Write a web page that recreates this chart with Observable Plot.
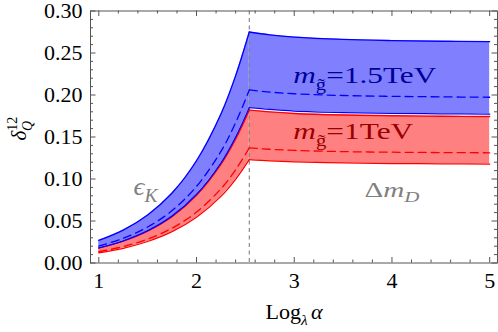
<!DOCTYPE html>
<html>
<head>
<meta charset="utf-8">
<script src="https://cdn.jsdelivr.net/npm/d3@7"></script>
<script src="https://cdn.jsdelivr.net/npm/@observablehq/plot@0.6"></script>
<style>
  html, body { margin: 0; padding: 0; background: #fff; }
</style>
</head>
<body>
<div id="chart"></div>
<script>
// ---- data ----
const xVals   = [1, 1.25, 1.5, 1.75, 2, 2.25, 2.4, 2.54, 2.54, 2.75, 3, 3.5, 4, 4.5, 5];
const segment = ["L","L","L","L","L","L","L","L","R","R","R","R","R","R","R"];
const blueUpper  = [0.0269, 0.0392, 0.0572, 0.0833, 0.1217, 0.1774, 0.2228, 0.2750, 0.2750, 0.2717, 0.2690, 0.2662, 0.2648, 0.2640, 0.2635];
const blueDashed = [0.0201, 0.0294, 0.0428, 0.0624, 0.0912, 0.1329, 0.1669, 0.2060, 0.2060, 0.2035, 0.2015, 0.1994, 0.1984, 0.1978, 0.1973];
const blueLower  = [0.0181, 0.0264, 0.0385, 0.0561, 0.0819, 0.1193, 0.1499, 0.1850, 0.1850, 0.1828, 0.1809, 0.1791, 0.1782, 0.1776, 0.1772];
const redUpper   = [0.0178, 0.0260, 0.0379, 0.0551, 0.0805, 0.1174, 0.1474, 0.1820, 0.1820, 0.1798, 0.1780, 0.1762, 0.1753, 0.1747, 0.1744];
const redDashed  = [0.0134, 0.0195, 0.0285, 0.0415, 0.0606, 0.0884, 0.1110, 0.1370, 0.1370, 0.1354, 0.1340, 0.1326, 0.1319, 0.1315, 0.1312];
const redLower   = [0.0120, 0.0175, 0.0256, 0.0373, 0.0544, 0.0793, 0.0996, 0.1230, 0.1230, 0.1215, 0.1203, 0.1191, 0.1184, 0.1181, 0.1178];
const boundaryX = [2.54];

const xMajor = [1, 2, 3, 4, 5];
const xMinor = [1.2, 1.4, 1.6, 1.8, 2.2, 2.4, 2.6, 2.8, 3.2, 3.4, 3.6, 3.8, 4.2, 4.4, 4.6, 4.8];
const yMajor = [0, 0.05, 0.10, 0.15, 0.20, 0.25, 0.30];
const yMinor = [0.01, 0.02, 0.03, 0.04, 0.06, 0.07, 0.08, 0.09, 0.11, 0.12, 0.13, 0.14,
                0.16, 0.17, 0.18, 0.19, 0.21, 0.22, 0.23, 0.24, 0.26, 0.27, 0.28, 0.29];

const labelHeavy = "m_g~=1.5TeV";
const labelLight = "m_g~=1TeV";
const labelEps = "eps_K";
const labelDm = "Dm_D";
const xTitle = "Log_lambda alpha";
const yTitle = "delta_Q^12";

// ---- layout ----
const W = 498, H = 332;
const mL = 90, mR = 1, mT = 10.5, mB = 69.5;
const innerW = W - mL - mR, innerH = H - mT - mB;
const majorLen = 5.5, minorLen = 3;
const tickColor = "#555";
const FONT = "'Liberation Serif', 'Times New Roman', serif";

const rows = xVals.map((x, i) => ({
  x, seg: segment[i],
  bu: blueUpper[i], bd: blueDashed[i], bl: blueLower[i],
  ru: redUpper[i], rd: redDashed[i], rl: redLower[i]
}));

const curve = "catmull-rom";
const lineW = 1.3;

const plot = Plot.plot({
  width: W, height: H,
  marginLeft: mL, marginRight: mR, marginTop: mT, marginBottom: mB,
  style: {fontFamily: FONT, fontSize: "22px", color: "#000", background: "#fff"},
  x: {domain: [0.915, 5.08]},
  y: {domain: [0, 0.30]},
  marks: [
    // bands
    Plot.areaY(rows, {x: "x", y1: "rl", y2: "ru", z: "seg", fill: "#ff8080", curve}),
    Plot.areaY(rows, {x: "x", y1: "bl", y2: "bu", z: "seg", fill: "#8080ff", curve}),
    // boundary
    Plot.ruleX(boundaryX, {stroke: "#808080", strokeWidth: 1.1, strokeDasharray: "4,3.5"}),
    // edges
    Plot.line(rows, {x: "x", y: "rl", z: "seg", stroke: "#ff0000", strokeWidth: lineW, curve}),
    Plot.line(rows, {x: "x", y: "ru", z: "seg", stroke: "#ff0000", strokeWidth: lineW, curve}),
    Plot.line(rows, {x: "x", y: "rd", z: "seg", stroke: "#ff0000", strokeWidth: lineW, strokeDasharray: "8,5", curve}),
    Plot.line(rows, {x: "x", y: "bl", z: "seg", stroke: "#0000ff", strokeWidth: lineW, curve}),
    Plot.line(rows, {x: "x", y: "bu", z: "seg", stroke: "#0000ff", strokeWidth: lineW, curve}),
    Plot.line(rows, {x: "x", y: "bd", z: "seg", stroke: "#0000ff", strokeWidth: lineW, strokeDasharray: "8,5", curve}),
    // frame ticks (inward, all four sides)
    Plot.ruleX(xMajor, {stroke: tickColor, insetTop: innerH - majorLen}),
    Plot.ruleX(xMinor, {stroke: tickColor, insetTop: innerH - minorLen}),
    Plot.ruleX(xMajor, {stroke: tickColor, insetBottom: innerH - majorLen}),
    Plot.ruleX(xMinor, {stroke: tickColor, insetBottom: innerH - minorLen}),
    Plot.ruleY(yMajor, {stroke: tickColor, insetRight: innerW - majorLen}),
    Plot.ruleY(yMinor, {stroke: tickColor, insetRight: innerW - minorLen}),
    Plot.ruleY(yMajor, {stroke: tickColor, insetLeft: innerW - majorLen}),
    Plot.ruleY(yMinor, {stroke: tickColor, insetLeft: innerW - minorLen}),
    Plot.frame({stroke: tickColor, strokeWidth: 1}),
    // tick labels
    Plot.axisX({ticks: xMajor, tickFormat: d => String(d), tickSize: 0, tickPadding: 9, label: null, fontSize: 22, fill: "#000"}),
    Plot.axisY({ticks: yMajor, tickFormat: d3.format(".2f"), tickSize: 0, tickPadding: 8, label: null, fontSize: 22, fill: "#000"}),
    // annotations
    Plot.text([labelHeavy], {x: () => 2.99, y: () => 0.2145, text: d => d, textAnchor: "start", lineAnchor: "bottom", fill: "#00009a"}),
    Plot.text([labelLight], {x: () => 2.99, y: () => 0.1479, text: d => d, textAnchor: "start", lineAnchor: "bottom", fill: "#9a0000"}),
    Plot.text([labelEps], {x: () => 1.355, y: () => 0.0804, text: d => d, textAnchor: "start", lineAnchor: "bottom", fill: "#808080"}),
    Plot.text([labelDm], {x: () => 3.718, y: () => 0.0783, text: d => d, textAnchor: "start", lineAnchor: "bottom", fill: "#808080"}),
    // axis titles
    Plot.text([xTitle], {frameAnchor: "bottom", text: d => d, dy: 55.5, lineAnchor: "bottom", fill: "#000"}),
    Plot.text([yTitle], {frameAnchor: "left", y: () => 0.1458, text: d => d, dx: -65, rotate: -90, textAnchor: "start", lineAnchor: "bottom", fill: "#000"})
  ]
});

document.getElementById("chart").appendChild(plot);

// force the serif face on every text of the figure
d3.select(plot).style("font-family", FONT);
d3.select(plot).selectAll("g").style("font-family", FONT);
d3.select(plot).selectAll("text").style("font-family", FONT);

// ---- rich text (sub/superscripts); fs = base font size, len = target width ----
const rich = {
  [labelHeavy]: {fs: 24, len: 143, parts: [{t: "m", it: true}, {t: "g\u0303", s: 0.66, sh: 0.3}, {t: "=1.5TeV"}]},
  [labelLight]: {fs: 24, len: 120, parts: [{t: "m", it: true}, {t: "g\u0303", s: 0.66, sh: 0.3}, {t: "=1TeV"}]},
  [labelEps]:   {fs: 25, len: 24,  parts: [{t: "\u03F5", it: true}, {t: "K", it: true, s: 0.72, sh: 0.28}]},
  [labelDm]:    {fs: 20, len: 55,  parts: [{t: "\u0394"}, {t: "m", it: true}, {t: "D", it: true, s: 0.72, sh: 0.22}]},
  [xTitle]:     {fs: 21, len: 57,  parts: [{t: "Log"}, {t: "\u03BB", it: true, s: 0.7, sh: 0.3}, {t: "\u03B1", it: true, dx: 3}]},
  [yTitle]:     {fs: 21, parts: [{t: "\u03B4", it: true}, {t: "12", s: 0.66, sh: -0.42}, {t: "Q", it: true, s: 0.66, sh: 0.32, dx: -14}]}
};
d3.select(plot).selectAll("text").each(function () {
  const spec = rich[this.textContent];
  if (!spec) return;
  const fs = spec.fs;
  const el = d3.select(this);
  el.text(null).attr("font-size", fs).style("font-size", fs + "px");
  let cur = 0;
  for (const p of spec.parts) {
    const size = (p.s || 1) * fs;
    const shift = (p.sh || 0) * fs;
    const ts = el.append("tspan").text(p.t).attr("font-size", size);
    if (shift - cur !== 0) ts.attr("dy", shift - cur);
    if (p.it) ts.attr("font-style", "italic");
    if (p.dx) ts.attr("dx", p.dx);
    cur = shift;
  }
  if (spec.len) el.attr("textLength", spec.len).attr("lengthAdjust", "spacingAndGlyphs");
});
</script>
</body>
</html>
